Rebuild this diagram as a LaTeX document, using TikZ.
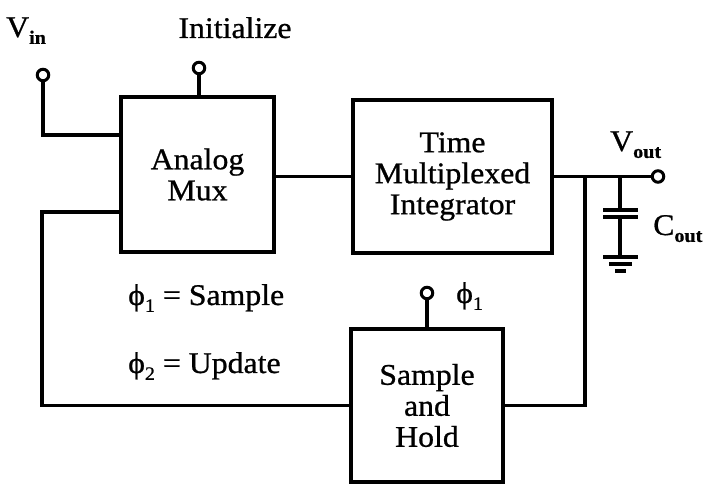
\documentclass[tikz,border=0pt]{standalone}
\usepackage{fontspec}
\setmainfont{Liberation Serif}[FakeStretch=1.06, FakeBold=0.8]
\newcommand{\lowsub}[1]{\raisebox{-0.5ex}{\fontsize{19}{19}\selectfont #1}}

\begin{document}
\begin{tikzpicture}[x = 1pt, y = -1pt, font = \fontsize{30}{31}\selectfont]
	\tikzstyle{blockStyle} = [draw, line width = 3.2pt, align = center, inner sep = 0pt]
	\tikzstyle{wireStyle} = [line width = 3.2pt]
	\tikzstyle{termStyle} = [shape = circle, minimum size = 11.5pt, inner sep = 0pt, draw, line width = 3pt, fill = white]
	\tikzstyle{labelStyle} = [inner sep = 0pt, anchor = base west]
	\useasboundingbox (0,0) rectangle (707,486);
	\node[blockStyle, minimum width = 153pt, minimum height = 155pt] (mux) at (197.5,174.5) {Analog\\Mux};
	\node[blockStyle, minimum width = 199pt, minimum height = 153pt] (integ) at (452.5,176.5) {Time\\Multiplexed\\Integrator};
	\node[blockStyle, minimum width = 152pt, minimum height = 153pt] (sh) at (427,405.5) {Sample\\and\\Hold};
	\node[termStyle] (vin) at (43,75) {};
	\node[termStyle] (init) at (199,68) {};
	\node[termStyle] (vout) at (658,176.5) {};
	\node[termStyle] (phione) at (427,293) {};
	\coordinate (fbtop) at (585,176.5);
	\coordinate (fbleft) at (42,212);
	\coordinate (capnode) at (620,176.5);
	\draw[wireStyle] (vin) |- ([yshift = 39.5pt]mux.west);
	\draw[wireStyle] (init) -- (init |- mux.north);
	\draw[wireStyle] (mux.east |- integ.west) -- (integ.west);
	\draw[wireStyle] (integ.east) -- (vout);
	\draw[wireStyle] (fbtop) |- (sh.east);
	\draw[wireStyle] (sh.west) -| (fbleft) -- (fbleft -| mux.west);
	\draw[wireStyle] (phione) -- (sh.north);
	\draw[wireStyle] (capnode) -- ++(0,33.5);
	\draw[wireStyle] (603,210) -- (638,210);
	\draw[wireStyle] (603,217) -- (638,217);
	\draw[wireStyle] (620,217) -- (620,257);
	\draw[wireStyle] (603,257) -- (638,257);
	\draw[wireStyle] (609,264) -- (632,264);
	\draw[wireStyle] (615,271) -- (626,271);
	\node[anchor = base] (initlabel) at (235,38) {Initialize};
	\node[labelStyle] (vinlabel) at (6,37) {V\lowsub{\bfseries in}};
	\node[labelStyle] (voutlabel) at (610,151) {V\lowsub{\bfseries out}};
	\node[labelStyle] (coutlabel) at (653,235) {C\lowsub{\bfseries out}};
	\node[labelStyle] (phionelabel) at (456,303) {ϕ\lowsub{1}};
	\node[labelStyle] (samplelabel) at (128,305) {ϕ\lowsub{1} = Sample};
	\node[labelStyle] (updatelabel) at (128,373) {ϕ\lowsub{2} = Update};
\end{tikzpicture}
\end{document}
